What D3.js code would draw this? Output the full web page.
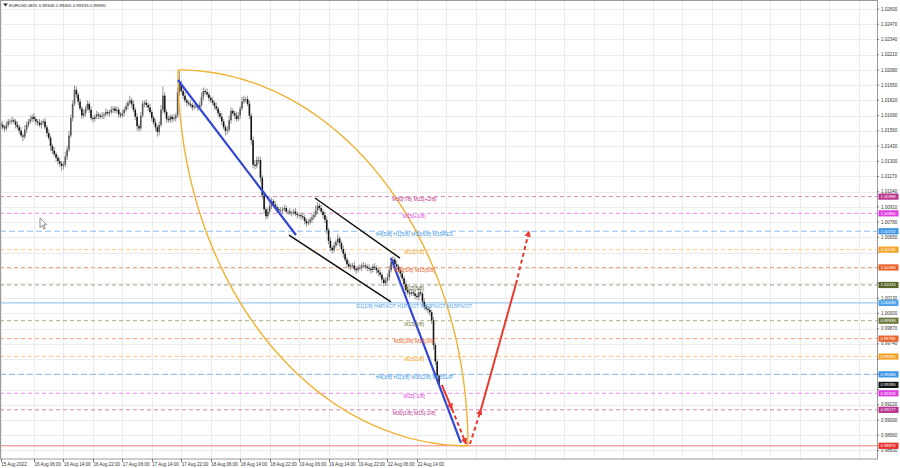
<!DOCTYPE html>
<html><head><meta charset="utf-8">
<script src="https://cdn.jsdelivr.net/npm/d3@7"></script>
<style>body{margin:0;background:#fff;} svg{display:block;font-family:"Liberation Sans",Arial,sans-serif;}</style>
</head><body><svg id="c" width="900" height="468"></svg>
<script>
const title = "EURUSD,M15  0.99346 0.99455 0.99335 0.99390";
const closes = [1.0161,1.0159,1.0158,1.0161,1.0164,1.0164,1.0165,1.0164,1.0161,1.0159,
 1.0156,1.0152,1.0151,1.0157,1.0161,1.0164,1.0166,1.0168,1.0166,1.0164,
 1.0163,1.0161,1.0163,1.0164,1.0159,1.0154,1.0150,1.0143,1.0139,1.0136,
 1.0133,1.0130,1.0128,1.0126,1.0127,1.0134,1.0140,1.0152,1.0167,1.0179,
 1.0191,1.0187,1.0181,1.0175,1.0169,1.0171,1.0175,1.0179,1.0174,1.0167,
 1.0166,1.0168,1.0170,1.0169,1.0168,1.0169,1.0170,1.0172,1.0171,1.0172,
 1.0174,1.0175,1.0173,1.0174,1.0170,1.0169,1.0171,1.0174,1.0177,1.0180,
 1.0182,1.0179,1.0174,1.0168,1.0160,1.0158,1.0169,1.0179,1.0180,1.0178,
 1.0176,1.0172,1.0167,1.0163,1.0159,1.0155,1.0161,1.0174,1.0186,1.0172,
 1.0166,1.0165,1.0168,1.0166,1.0167,1.0169,1.0189,1.0196,1.0190,1.0186,
 1.0182,1.0180,1.0179,1.0178,1.0176,1.0177,1.0177,1.0176,1.0178,1.0185,
 1.0190,1.0189,1.0187,1.0184,1.0182,1.0180,1.0177,1.0175,1.0171,1.0168,
 1.0164,1.0159,1.0156,1.0157,1.0165,1.0173,1.0171,1.0169,1.0166,1.0169,
 1.0175,1.0181,1.0183,1.0183,1.0179,1.0169,1.0148,1.0127,1.0126,1.0131,
 1.0131,1.0116,1.0101,1.0089,1.0083,1.0087,1.0092,1.0096,1.0093,1.0091,
 1.0089,1.0088,1.0088,1.0089,1.0090,1.0087,1.0087,1.0086,1.0086,1.0087,
 1.0085,1.0084,1.0084,1.0083,1.0082,1.0079,1.0077,1.0078,1.0080,1.0082,
 1.0084,1.0088,1.0092,1.0090,1.0087,1.0084,1.0080,1.0071,1.0062,1.0056,
 1.0054,1.0058,1.0061,1.0064,1.0060,1.0055,1.0051,1.0046,1.0042,1.0040,
 1.0041,1.0041,1.0038,1.0037,1.0039,1.0039,1.0041,1.0041,1.0040,1.0039,
 1.0038,1.0037,1.0040,1.0039,1.0037,1.0035,1.0033,1.0029,1.0026,1.0028,
 1.0031,1.0037,1.0044,1.0046,1.0042,1.0040,1.0037,1.0034,1.0030,1.0025,
 1.0020,1.0018,1.0017,1.0018,1.0017,1.0015,1.0014,1.0018,1.0017,1.0010,
 1.0006,1.0004,1.0003,1.0001,0.9994,0.9973,0.9959,0.9947,0.9939];
const firstOpen = 1.0162;
// upper / lower wick sizes in pips
const hiWick = [2,3,2,3,2,2,3,2,2,3,2,3,2,4,3,2,3,2,3,2,
 2,3,2,2,3,2,3,2,2,3,2,2,3,2,3,4,3,4,3,3,
 4,3,2,3,2,3,2,3,2,3,2,2,3,2,2,3,2,3,2,2,
 3,2,2,3,2,2,3,2,3,2,4,2,3,2,3,2,3,3,2,3,
 2,3,2,2,3,2,3,4,8,3,2,3,2,2,3,2,4,11,3,2,
 3,2,2,3,2,2,3,2,3,4,3,2,3,2,2,3,2,3,2,2,
 3,2,2,3,4,3,2,2,3,3,2,4,3,2,3,3,2,3,4,3,
 3,3,2,3,2,3,4,3,2,3,2,2,3,2,3,2,2,3,2,2,
 3,2,2,2,3,2,2,3,2,3,3,4,3,2,3,2,3,3,2,3,
 2,3,2,4,2,2,3,2,2,3,2,2,3,2,2,3,2,3,2,2,
 3,2,2,3,2,2,3,2,2,3,3,4,4,3,2,3,2,2,3,2,
 3,2,2,3,2,3,2,4,3,2,3,2,2,3,2,3,2,2,1];
const loWick = [3,2,3,2,2,3,2,2,3,2,3,2,4,2,3,2,2,3,2,3,
 3,2,3,2,2,3,2,4,3,2,3,3,3,4,3,2,3,2,2,3,
 2,3,3,2,3,2,3,2,3,2,3,2,2,3,2,2,3,2,2,3,
 2,3,2,2,3,2,2,3,2,3,2,3,2,3,4,3,2,2,3,2,
 3,2,3,2,3,4,3,2,3,2,3,2,2,3,2,3,2,3,2,3,
 2,3,2,2,3,2,2,3,2,2,3,2,2,3,2,2,3,2,3,2,
 3,2,4,3,2,3,2,3,2,2,3,2,2,3,2,3,4,3,3,2,
 3,4,3,4,3,2,2,3,2,2,3,2,2,3,2,2,3,2,3,2,
 2,3,2,3,2,3,3,2,2,3,2,2,3,2,2,3,3,3,3,3,
 3,2,2,3,3,2,3,2,3,2,3,2,2,3,2,2,3,2,2,3,
 2,3,2,2,3,3,2,3,3,2,2,3,2,2,3,2,2,3,2,3,
 3,2,3,2,2,3,2,3,2,3,3,2,3,3,3,4,3,3,1];

const timeLabels = ["15 Aug 2022","16 Aug 06:00","16 Aug 14:00","16 Aug 22:00","17 Aug 06:00","17 Aug 14:00","17 Aug 22:00","18 Aug 06:00","18 Aug 14:00","18 Aug 22:00","19 Aug 06:00","19 Aug 14:00","19 Aug 22:00","22 Aug 06:00","22 Aug 14:00"];
const timeLabelBars = [0,18,34,50,66,82,98,114,130,146,162,178,194,210,226];
const priceTicks = [1.02600,1.02470,1.02340,1.02210,1.02080,1.01950,1.01820,1.01690,1.01560,1.01430,1.01300,1.01170,1.01040,1.00910,1.00780,1.00650,1.00520,1.00390,1.00260,1.00130,1.00000,0.99870,0.99740,0.99610,0.99480,0.99350,0.99220,0.99090,0.98960,0.98830];

const levelPrices = [1.00998,1.00855,1.00702,1.00545,1.00393,1.00243,1.00090,0.99938,0.99785,0.99632,0.99480,0.99318,0.99177,0.98870];
const levelTexts = ["M30[7/8] M15[+2/8]","M15[+1/8]","H4[5/8] H1[5/8] M30[6/8] M15RES","M15[7/8]","M30[5/8] M15[6/8]","M15[5/8]","D1[2/8] H4PIVOT H1PIVOT M30PIVOT M15PIVOT","M15[4/8]","M30[3/8] M15[3/8]","M15[2/8]","H4[3/8] H1[3/8] M30[2/8] M15SUP","M15[-1/8]","M30[1/8] M15[-2/8]",""];
const levelColors = ["#b8338c","#e03ce0","#3d95e6","#f2a428","#e8622a","#56662a","#4ea3ea","#6b7b3b","#e8622a","#f2a428","#3d95e6","#e03ce0","#b8338c","#e8302a"];
const levelDash = ["4,3","4,3","6,3","4,3","4,3","4,3","","4,3","4,3","4,3","6,3","4,3","4,3",""];
const currentPrice = 0.99390;

const arcAnchors = [[96.2,1.0208],[253.7,0.98870]];
const blueLines = [[[96.2,1.01994],[160.3,1.00670]],[[211.9,1.00473],[249.9,0.98894]]];
const channelLines = [[[170.6,1.00986],[216.8,1.00473]],[[156.5,1.00670],[211.9,1.00098]]];
const arrowPts = [[239.5,0.99390],[245.1,0.99182],[252.7,0.98885],[254.8,0.98885],[260.8,0.99182],[279.8,1.00252],[286.9,1.00704]];
const arrowSegs = [[0,1,"",1],[1,2,"4,3",1],[3,4,"4,3",1],[4,5,"",0],[5,6,"4,3",1]];

const svg = d3.select("#c");
const W = 877, H = 459;
const x = d3.scaleLinear().domain([0,476]).range([0.86,877.2]);
const y = d3.scaleLinear().domain([0.98757,1.02677]).range([459,0]);

const defs = svg.append("defs");
defs.append("clipPath").attr("id","plot").append("rect").attr("x",0).attr("y",0).attr("width",W).attr("height",H);
defs.append("marker").attr("id","ah").attr("viewBox","0 0 10 10").attr("refX",9).attr("refY",5)
  .attr("markerWidth",3.2).attr("markerHeight",3.2).attr("orient","auto")
  .append("path").attr("d","M0,0 L10,5 L0,10 Z").attr("fill","#e83a2e");

const g = svg.append("g").attr("clip-path","url(#plot)");

// grid
g.selectAll("line.hg").data(priceTicks).join("line")
  .attr("x1",0).attr("x2",W).attr("y1",d=>Math.round(y(d))+0.5).attr("y2",d=>Math.round(y(d))+0.5)
  .attr("stroke","#ececec").attr("stroke-width",1);
const vGridBars = timeLabelBars.concat(d3.range(242,476,16));
g.selectAll("line.vg").data(vGridBars).join("line")
  .attr("x1",d=>Math.round(x(d))+0.5).attr("x2",d=>Math.round(x(d))+0.5).attr("y1",0).attr("y2",H)
  .attr("stroke","#ececec").attr("stroke-width",1);

// level lines
levelPrices.forEach((p,i)=>{
  g.append("line").attr("x1",0).attr("x2",W).attr("y1",y(p)).attr("y2",y(p))
   .attr("stroke",levelColors[i]).attr("stroke-width", i===6?1.4:1)
   .attr("stroke-opacity", i===6?0.55:0.6)
   .attr("stroke-dasharray",levelDash[i]||null);
});

// candles
const bars = closes.map((c,i)=>{
  const o = i===0 ? firstOpen : closes[i-1];
  const h = Math.max(o,c) + hiWick[i]*0.0001;
  const l = Math.min(o,c) - loWick[i]*0.0001;
  return {i,o,c,h,l};
});
g.selectAll("line.wick").data(bars).join("line")
  .attr("x1",d=>x(d.i)).attr("x2",d=>x(d.i)).attr("y1",d=>y(d.h)).attr("y2",d=>y(d.l))
  .attr("stroke","#8a8a8a").attr("stroke-width",0.9);
g.selectAll("rect.body").data(bars).join("rect")
  .attr("x",d=>x(d.i)-0.8).attr("width",1.6)
  .attr("y",d=>y(Math.max(d.o,d.c))).attr("height",d=>Math.max(0.8,Math.abs(y(d.o)-y(d.c))))
  .attr("fill",d=>d.c<d.o?"#151515":"#5a5a5a");

// orange arcs
const ax1=x(arcAnchors[0][0]), ay1=y(arcAnchors[0][1]), ax2=x(arcAnchors[1][0]), ay2=y(arcAnchors[1][1]);
const rx=ax2-ax1, ry=ay2-ay1;
const ts = d3.range(0,91).map(k=>k/90*Math.PI/2);
const ln = d3.line();
g.append("path").attr("d",ln(ts.map(t=>[ax1+rx*Math.sin(t), ay2-ry*Math.cos(t)])))
  .attr("fill","none").attr("stroke","#f0b232").attr("stroke-width",1.4);
g.append("path").attr("d",ln(ts.map(t=>[ax2-rx*Math.cos(t), ay1+ry*Math.sin(t)])))
  .attr("fill","none").attr("stroke","#f0b232").attr("stroke-width",1.4);

// channel
channelLines.forEach(s=>{
  g.append("line").attr("x1",x(s[0][0])).attr("y1",y(s[0][1])).attr("x2",x(s[1][0])).attr("y2",y(s[1][1]))
   .attr("stroke","#111").attr("stroke-width",1.5);
});
// blue trend lines
blueLines.forEach(s=>{
  g.append("line").attr("x1",x(s[0][0])).attr("y1",y(s[0][1])).attr("x2",x(s[1][0])).attr("y2",y(s[1][1]))
   .attr("stroke","#3347d4").attr("stroke-width",2.2);
});
// red arrows
arrowSegs.forEach(s=>{
  const a=arrowPts[s[0]], b=arrowPts[s[1]];
  g.append("line").attr("x1",x(a[0])).attr("y1",y(a[1])).attr("x2",x(b[0])).attr("y2",y(b[1]))
   .attr("stroke","#e83a2e").attr("stroke-width",2)
   .attr("stroke-dasharray",s[2]||null)
   .attr("marker-end",s[3]?"url(#ah)":null);
});

// level labels
levelTexts.forEach((t,i)=>{
  if(!t) return;
  g.append("text").attr("x",x(224.5)).attr("y",y(levelPrices[i])+4.8)
   .attr("text-anchor","middle").attr("font-size",5.1).attr("fill",levelColors[i]).text(t);
});

// cursor
svg.append("path").attr("d","M40,218 L40,227.5 L42.2,225.4 L43.8,229 L45.2,228.4 L43.6,224.8 L46.6,224.8 Z")
  .attr("fill","#fff").attr("stroke","#444").attr("stroke-width",0.6);

// frame
svg.append("rect").attr("x",0.5).attr("y",0.5).attr("width",W).attr("height",H-0.5)
  .attr("fill","none").attr("stroke","#9a9a9a").attr("stroke-width",1);

// title
svg.append("path").attr("d","M3,3.5 L8,3.5 L5.5,6.5 Z").attr("fill","#333");
svg.append("text").attr("x",9).attr("y",6.8).attr("font-size",4.4).attr("fill","#222").text(title);

// x axis
svg.selectAll("line.xt").data(timeLabelBars).join("line")
  .attr("x1",d=>Math.round(x(d))+0.5).attr("x2",d=>Math.round(x(d))+0.5).attr("y1",H).attr("y2",H+3)
  .attr("stroke","#777");
svg.selectAll("text.xl").data(timeLabels).join("text")
  .attr("x",(d,i)=>x(timeLabelBars[i])+0.5).attr("y",465.5).attr("font-size",4.5).attr("fill","#333").text(d=>d);

// price tags positions (used to hide axis labels fully covered by a tag)
const tagPrices = levelPrices.concat([currentPrice]);
const tagColors = levelColors.concat(["#111"]);
const tagYs = tagPrices.map(p=>y(p));
const visibleTicks = priceTicks.filter(p=>tagYs.every(ty=>Math.abs(ty-y(p))>=4.6));

// y axis
svg.selectAll("text.yl").data(visibleTicks).join("text")
  .attr("x",881).attr("y",d=>y(d)+1.6).attr("font-size",4.5).attr("fill","#333").text(d=>d.toFixed(5));
svg.selectAll("line.yt").data(priceTicks).join("line")
  .attr("x1",W).attr("x2",W+2).attr("y1",d=>y(d)).attr("y2",d=>y(d)).attr("stroke","#777");

// price tags
tagPrices.forEach((p,i)=>{
  svg.append("rect").attr("x",878.5).attr("y",y(p)-3.1).attr("width",20).attr("height",6.2).attr("fill",tagColors[i]);
  svg.append("text").attr("x",880.5).attr("y",y(p)+1.4).attr("font-size",4.2).attr("fill","#fff").text(p.toFixed(5));
});
</script></body></html>
